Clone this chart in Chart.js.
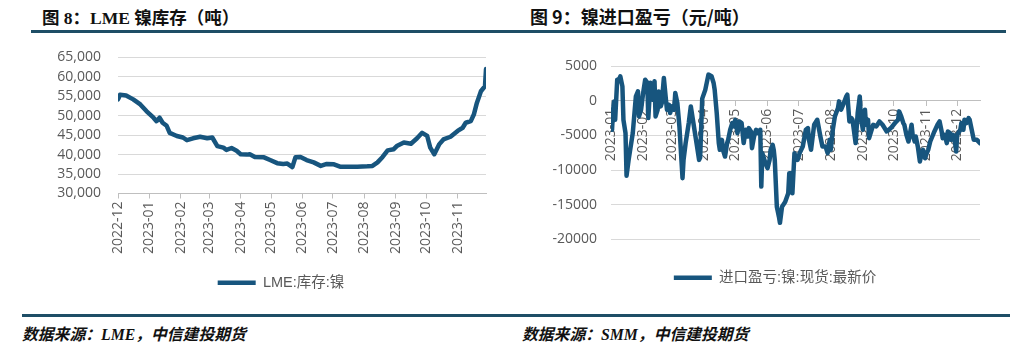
<!DOCTYPE html>
<html><head><meta charset="utf-8">
<script src="https://cdn.jsdelivr.net/npm/chart.js@4.4.1/dist/chart.umd.min.js"></script>
<style>
html,body{margin:0;padding:0;background:#fff;width:1026px;height:351px;overflow:hidden;position:relative}
.t{position:absolute;font-weight:bold;color:#111;white-space:nowrap}
.rule{position:absolute;background:#1e4e66}
.src{position:absolute;font-style:italic;font-weight:bold;font-size:15.8px;color:#111;font-family:"Liberation Serif","Noto Sans CJK SC";white-space:nowrap}
.box{position:absolute}
</style></head><body>
<div class="t" style="left:42px;top:4px;font-size:17.5px;font-family:'Liberation Serif','Noto Sans CJK SC'">图 8：LME 镍库存（吨）</div>
<div class="t" style="left:530px;top:3px;font-size:18px;font-family:'Noto Sans CJK SC'">图 9：镍进口盈亏（元/吨）</div>
<div class="rule" style="left:31px;top:30px;width:975px;height:3px"></div>
<div class="rule" style="left:22px;top:314px;width:988px;height:3px"></div>
<div class="src" style="left:22px;top:322px">数据来源：LME，中信建投期货</div>
<div class="src" style="left:522px;top:322px">数据来源：SMM，中信建投期货</div>
<div class="box" style="left:40px;top:32px;width:460px;height:270px"><canvas id="c1"></canvas></div>
<div class="box" style="left:520px;top:40px;width:490px;height:262px"><canvas id="c2"></canvas></div>
<script>
// ---- Chart 1: LME nickel stocks (t) ----
const lmeDates = ["2022-12-01","2022-12-03","2022-12-09","2022-12-16","2022-12-23","2022-12-29","2023-01-05","2023-01-08","2023-01-11","2023-01-14","2023-01-18","2023-01-21","2023-01-28","2023-02-03","2023-02-07","2023-02-13","2023-02-20","2023-02-27","2023-03-04","2023-03-09","2023-03-15","2023-03-18","2023-03-23","2023-03-28","2023-04-01","2023-04-07","2023-04-10","2023-04-15","2023-04-24","2023-04-30","2023-05-07","2023-05-13","2023-05-17","2023-05-22","2023-05-25","2023-05-30","2023-06-05","2023-06-12","2023-06-19","2023-06-25","2023-07-02","2023-07-08","2023-07-15","2023-07-25","2023-08-04","2023-08-09","2023-08-14","2023-08-19","2023-08-24","2023-08-30","2023-09-02","2023-09-09","2023-09-16","2023-09-22","2023-09-27","2023-10-02","2023-10-05","2023-10-09","2023-10-14","2023-10-18","2023-10-25","2023-11-01","2023-11-06","2023-11-09","2023-11-14","2023-11-17","2023-11-20","2023-11-24","2023-11-28","2023-11-29"];
const lmeStock = [54200,55400,55200,54200,52900,51200,49500,48600,49500,48200,47400,45600,44800,44400,43700,44200,44600,44200,44400,42200,41800,41200,41700,41000,40100,40000,40100,39400,39300,38600,37800,37600,37700,36800,39300,39400,38600,38000,37100,37600,37500,36900,36900,36900,37000,37100,38000,39400,41100,41400,42200,43100,42800,44200,45600,44800,41800,40100,42700,43900,44600,46100,46900,48200,48600,50300,53300,56300,57600,62000];
const lmeMonths = ["2022-12","2023-01","2023-02","2023-03","2023-04","2023-05","2023-06","2023-07","2023-08","2023-09","2023-10","2023-11"];
const lmeLabel = "LME:库存:镍";

// ---- Chart 2: nickel import profit/loss (yuan/t) ----
const impDates = ["2023-01-01","2023-01-02","2023-01-03","2023-01-04","2023-01-05","2023-01-07","2023-01-08","2023-01-10","2023-01-12","2023-01-13","2023-01-15","2023-01-16","2023-01-18","2023-01-22","2023-01-25","2023-01-27","2023-01-28","2023-01-30","2023-02-01","2023-02-03","2023-02-05","2023-02-06","2023-02-08","2023-02-10","2023-02-12","2023-02-13","2023-02-15","2023-02-16","2023-02-18","2023-02-19","2023-02-21","2023-02-23","2023-02-24","2023-02-26","2023-02-27","2023-03-01","2023-03-03","2023-03-04","2023-03-06","2023-03-08","2023-03-11","2023-03-12","2023-03-14","2023-03-17","2023-03-19","2023-03-22","2023-03-25","2023-03-27","2023-03-28","2023-03-30","2023-04-02","2023-04-05","2023-04-08","2023-04-10","2023-04-11","2023-04-13","2023-04-15","2023-04-16","2023-04-18","2023-04-19","2023-04-21","2023-04-23","2023-04-24","2023-04-26","2023-04-28","2023-04-29","2023-05-01","2023-05-03","2023-05-05","2023-05-07","2023-05-09","2023-05-11","2023-05-13","2023-05-14","2023-05-16","2023-05-17","2023-05-19","2023-05-21","2023-05-23","2023-05-25","2023-05-26","2023-05-27","2023-05-29","2023-05-30","2023-06-01","2023-06-03","2023-06-04","2023-06-06","2023-06-07","2023-06-08","2023-06-10","2023-06-12","2023-06-13","2023-06-15","2023-06-18","2023-06-21","2023-06-22","2023-06-24","2023-06-25","2023-06-27","2023-06-28","2023-06-30","2023-07-02","2023-07-05","2023-07-08","2023-07-10","2023-07-11","2023-07-13","2023-07-16","2023-07-19","2023-07-22","2023-07-24","2023-07-27","2023-07-29","2023-07-31","2023-08-01","2023-08-03","2023-08-05","2023-08-08","2023-08-09","2023-08-11","2023-08-13","2023-08-16","2023-08-17","2023-08-19","2023-08-21","2023-08-22","2023-08-25","2023-08-27","2023-08-29","2023-08-30","2023-09-01","2023-09-03","2023-09-04","2023-09-06","2023-09-07","2023-09-09","2023-09-11","2023-09-14","2023-09-17","2023-09-20","2023-09-24","2023-09-28","2023-10-02","2023-10-05","2023-10-06","2023-10-08","2023-10-10","2023-10-11","2023-10-13","2023-10-15","2023-10-18","2023-10-19","2023-10-21","2023-10-22","2023-10-24","2023-10-26","2023-10-27","2023-10-29","2023-10-31","2023-11-01","2023-11-03","2023-11-05","2023-11-07","2023-11-09","2023-11-12","2023-11-14","2023-11-16","2023-11-17","2023-11-19","2023-11-21","2023-11-22","2023-11-24","2023-11-25","2023-11-27","2023-11-29","2023-11-30","2023-12-01","2023-12-04","2023-12-05","2023-12-07","2023-12-08","2023-12-10","2023-12-12","2023-12-13","2023-12-15","2023-12-17","2023-12-20","2023-12-23"];
const impProfit = [-3000,-4200,-1300,-100,-2750,3030,2800,3510,2070,-2750,-4670,-10800,-8530,-4670,620,1340,-2270,-1300,1110,3030,2600,-2500,2600,140,2790,-2270,-1300,1340,-820,-340,3280,140,-1300,-600,-1780,-820,-1300,1110,-340,-3710,-11170,-8530,-6110,-3220,-820,-3710,-6600,-8530,-8200,300,1590,3760,3520,2550,1590,-1780,-6110,-7080,-5640,-7080,-8050,-6110,-5640,-4190,-3220,-3710,-2750,-4670,-2990,-3220,-6110,-4190,-5160,-3950,-4430,-6840,-5160,-4190,-4670,-4190,-12380,-7560,-8530,-9010,-9730,-8530,-7080,-6360,-7080,-8530,-15270,-16720,-17600,-15270,-14600,-13340,-10450,-10450,-13340,-7560,-8050,-8530,-7560,-6600,-4190,-3950,-5640,-7080,-3470,-2750,-5160,-6600,-6600,-7560,-5640,-7080,-4190,-2270,-1060,-100,-1300,-580,620,870,-2990,-2510,-2750,-6110,-1780,620,-2270,-4190,-1300,-3470,-2750,-5400,-4430,-3470,-3700,-2990,-3470,-4430,-3950,-3220,-2750,-1540,-2270,-3220,-3470,-4910,-5880,-3470,-4910,-5880,-5160,-6600,-8770,-8050,-7080,-8290,-7800,-7080,-5880,-5160,-4430,-3470,-2990,-4430,-5400,-4910,-6110,-4430,-4670,-5640,-4910,-6110,-7320,-4910,-4190,-3220,-4190,-2750,-3220,-2510,-2750,-4190,-5640,-5640,-6110];
const impMonths = ["2023-01","2023-02","2023-03","2023-04","2023-05","2023-06","2023-07","2023-08","2023-09","2023-10","2023-11","2023-12"];
const impLabel = "进口盈亏:镍:现货:最新价";

const LINE = "#17557e";
const GRID = "#d9d9d9";
const AXIS = "#bfbfbf";
const TXT = "#595959";
const FONT = "'Open Sans','Noto Sans CJK SC',sans-serif";

function dayOf(s, base){ const a=s.split('-').map(Number); const b=base.split('-').map(Number);
  return Math.round((Date.UTC(a[0],a[1]-1,a[2]||1)-Date.UTC(b[0],b[1]-1,b[2]||1))/86400000); }

function build(id, dates, vals, label, months, yCfg, opt){
  const base = months[0] + "-01";
  const pts = dates.map((d,i)=>({x: dayOf(d, base), y: vals[i]}));
  const tickVals = months.map(m => dayOf(m + "-01", base));
  const tickMap = {}; months.forEach((m,i)=>tickMap[tickVals[i]] = m);
  return new Chart(document.getElementById(id), {
    type: 'line',
    data: { datasets: [{ label: label, data: pts, borderColor: LINE, backgroundColor: LINE,
      borderWidth: 4.5, pointRadius: 0, pointStyle: 'line', tension: 0, borderJoinStyle: 'round', borderCapStyle: 'round' }] },
    plugins: [{ id: 'legendShift', afterLayout(chart){ const lg = chart.legend; if (lg) { lg.left += opt.legendShift; lg.right += opt.legendShift; } } }],
    options: {
      responsive: true, maintainAspectRatio: false, animation: false,
      layout: { padding: opt.padding },
      plugins: {
        legend: { position: 'bottom', labels: { usePointStyle: true, pointStyleWidth: 38, boxHeight: 13, padding: opt.legendPad,
          color: TXT, font: { family: "'Liberation Sans','Noto Sans CJK SC',sans-serif", size: 14.5 } } },
        tooltip: { enabled: false }
      },
      scales: {
        x: {
          type: 'linear', min: 0, max: pts[pts.length-1].x,
          position: opt.xPos,
          afterBuildTicks: ax => { ax.ticks = tickVals.map(v => ({ value: v })); },
          afterFit: opt.xHeight ? (s => { s.height = opt.xHeight; }) : undefined,
          ticks: { autoSkip: false, minRotation: 90, maxRotation: 90, padding: 3, color: TXT,
            font: { family: FONT, size: 14 }, callback: v => tickMap[v] || '' },
          grid: { drawOnChartArea: false, drawTicks: true, tickLength: 5, color: AXIS },
          border: { display: true, color: AXIS }
        },
        y: {
          min: yCfg.min, max: yCfg.max,
          afterFit: s => { s.width = opt.yWidth; },
          ticks: { stepSize: yCfg.step, autoSkip: false, padding: opt.yPad, color: TXT, font: { family: FONT, size: 14 },
            callback: yCfg.fmt },
          grid: { color: GRID, drawTicks: false },
          border: { display: false }
        }
      }
    }
  });
}

build('c1', lmeDates, lmeStock, lmeLabel, lmeMonths,
  { min: 30000, max: 65000, step: 5000, fmt: v => v.toLocaleString('en-US') },
  { padding: { top: 11, right: 14, bottom: 2, left: 0 }, yWidth: 78, yPad: 17, xPos: 'bottom', xHeight: 72, legendPad: 10, legendShift: 18 });

build('c2', impDates, impProfit, impLabel, impMonths,
  { min: -20000, max: 5000, step: 5000, fmt: v => String(v) },
  { padding: { top: 26, right: 30, bottom: 7, left: 0 }, yWidth: 91, yPad: 14, xPos: { y: 0 }, xHeight: null, legendPad: 31, legendShift: 25 });
</script>
</body></html>
